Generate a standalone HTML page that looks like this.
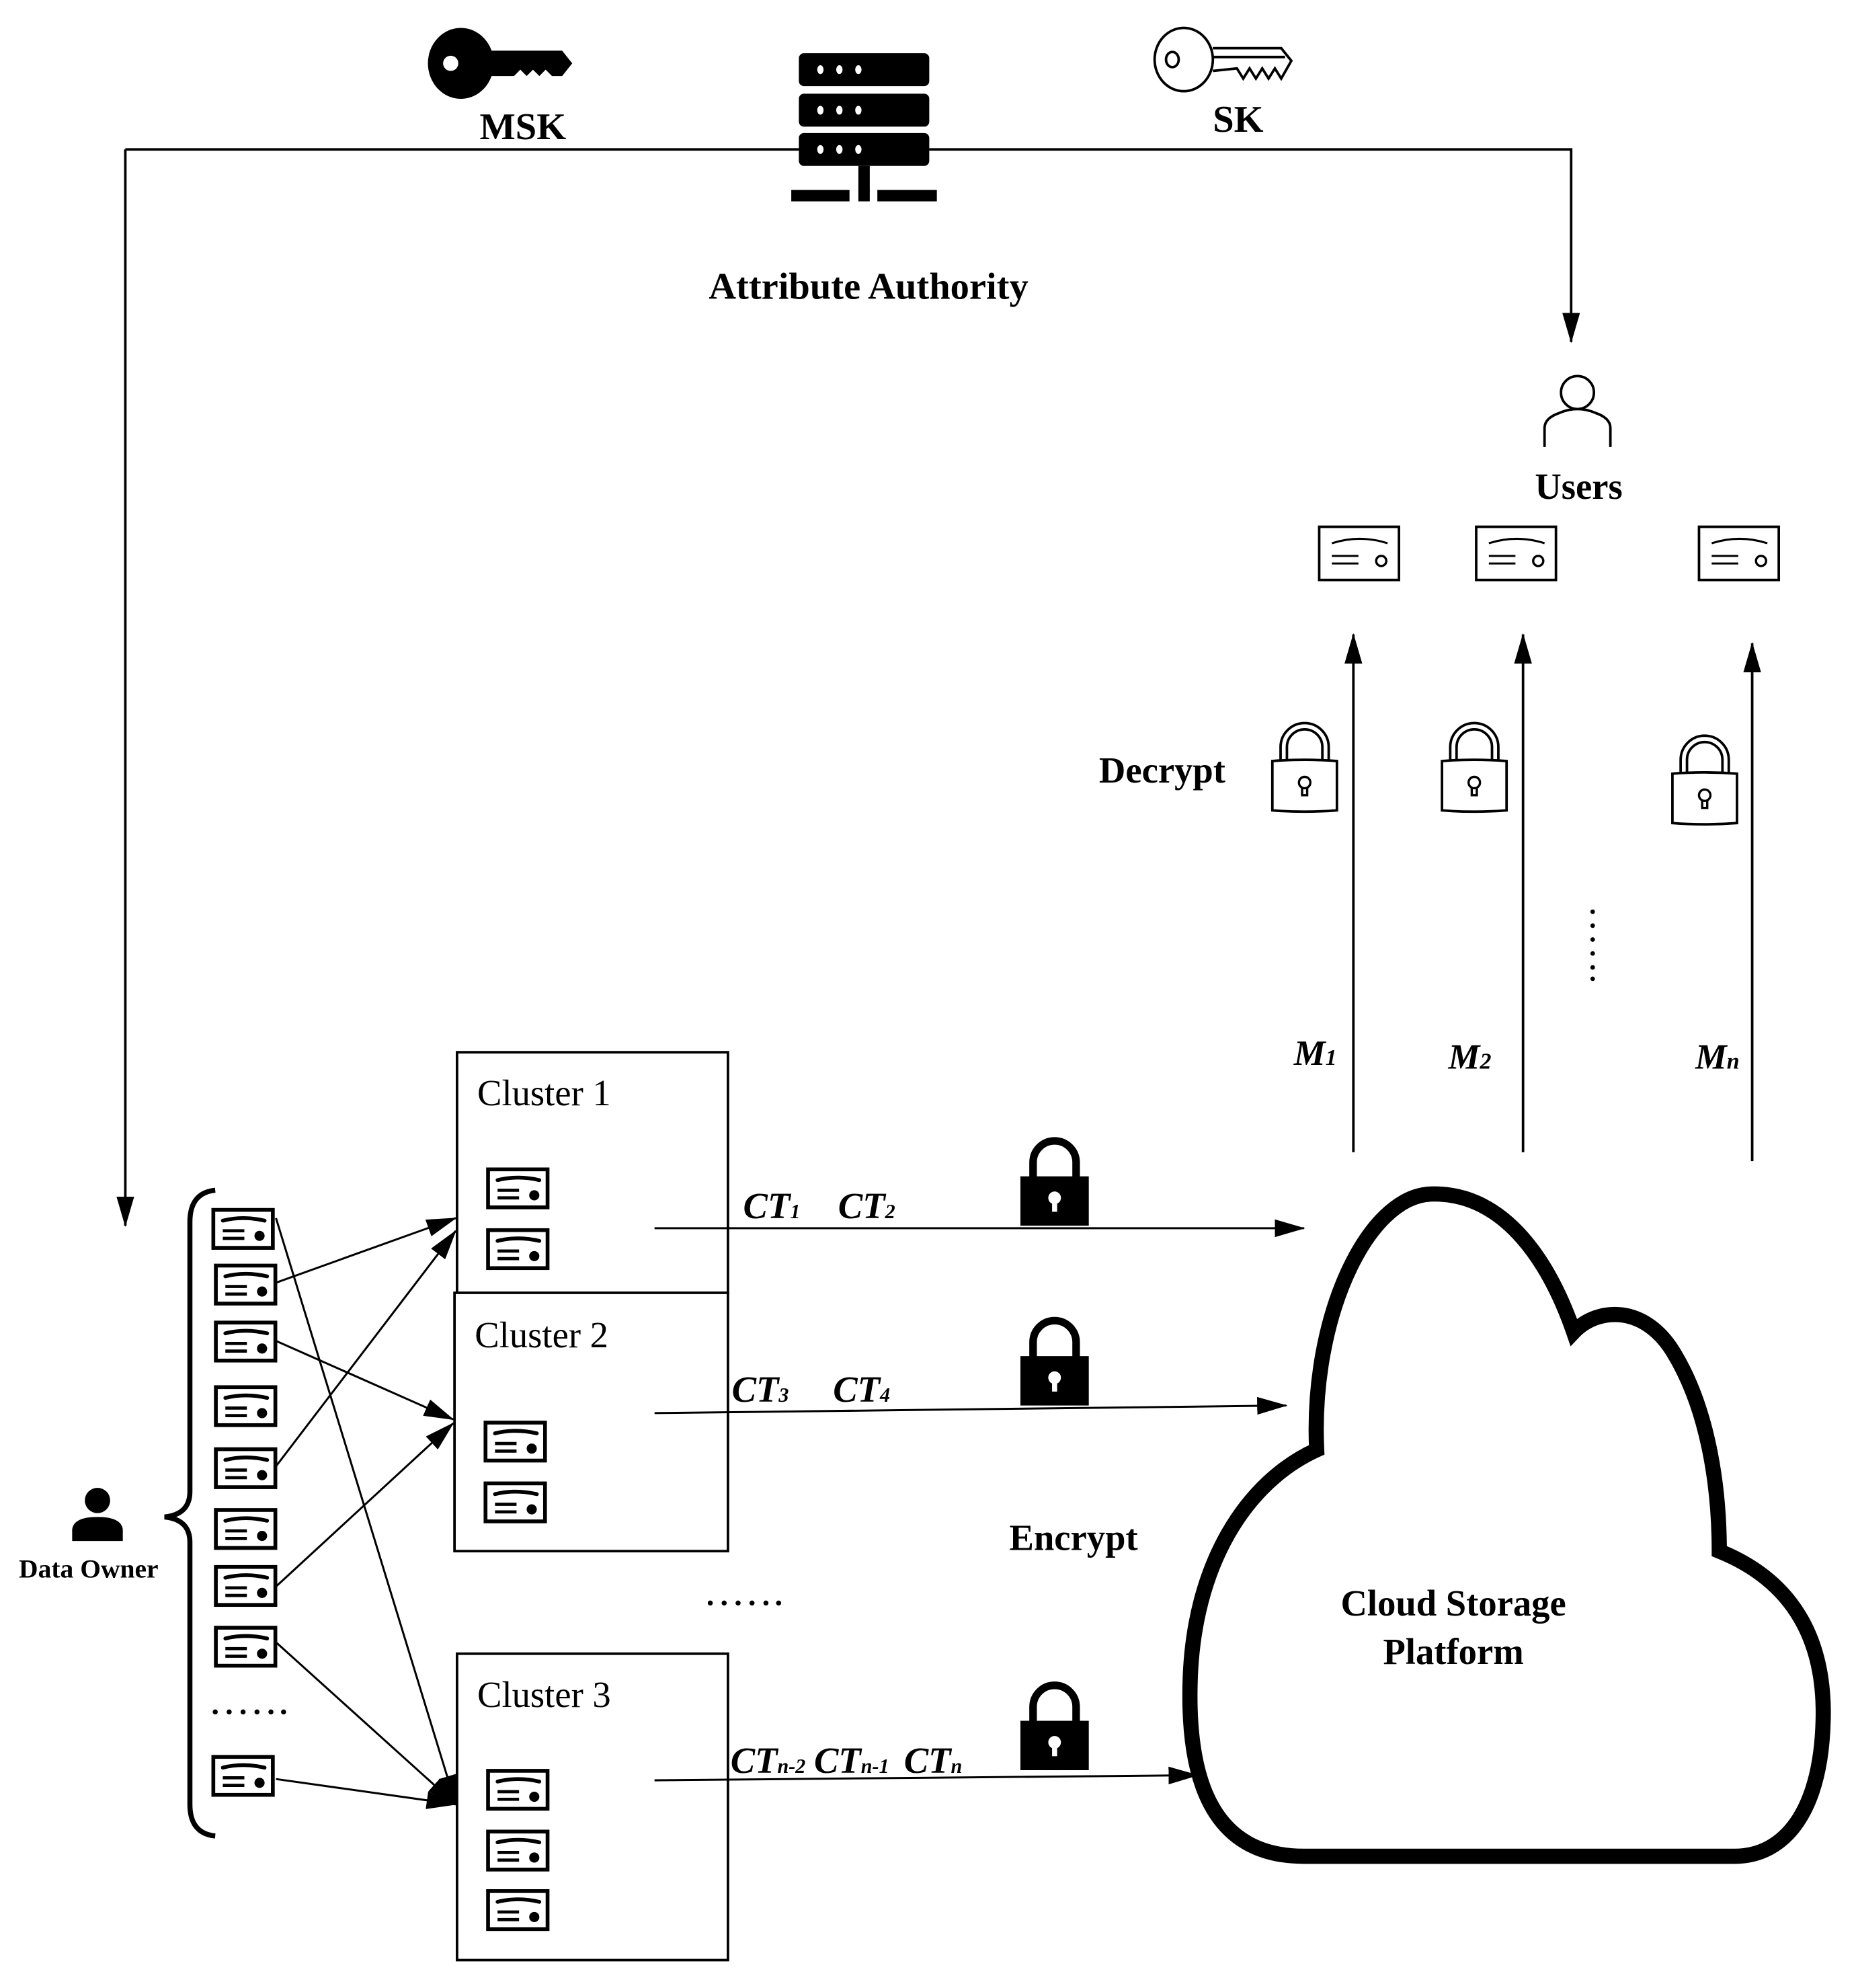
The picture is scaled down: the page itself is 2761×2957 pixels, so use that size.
<!DOCTYPE html>
<html><head><meta charset="utf-8"><style>html,body{margin:0;padding:0;background:#fff}svg{display:block}svg text,svg tspan{font-family:"Liberation Serif","Times New Roman",serif}</style></head>
<body>
<svg width="2761" height="2957" viewBox="0 0 1466 1570" xmlns="http://www.w3.org/2000/svg" style="font-family:'Liberation Serif',serif">
<defs>
<marker id="ah2" markerWidth="24" markerHeight="14" refX="23" refY="7" orient="auto" markerUnits="userSpaceOnUse"><path d="M0,0 L24,7 L0,14 Z" fill="#000"/></marker>
<g id="cert">
<rect x="1.5" y="1.5" width="47" height="30" fill="#fff" stroke="#000" stroke-width="3"/>
<path d="M9,10 Q25,6 42,10" fill="none" stroke="#000" stroke-width="3" stroke-linecap="round"/>
<line x1="9" y1="18" x2="26" y2="18" stroke="#000" stroke-width="2.5"/>
<line x1="9" y1="24" x2="26" y2="24" stroke="#000" stroke-width="2.5"/>
<circle cx="38" cy="22" r="4" fill="#000"/>
</g>
<g id="ucert">
<rect x="1" y="1" width="63" height="42" fill="#fff" stroke="#000" stroke-width="2"/>
<path d="M11,14 Q33,7 55,14" fill="none" stroke="#000" stroke-width="1.6"/>
<line x1="11" y1="24" x2="32" y2="24" stroke="#000" stroke-width="1.6"/>
<line x1="11" y1="30" x2="32" y2="30" stroke="#000" stroke-width="1.6"/>
<circle cx="50" cy="28" r="4" fill="none" stroke="#000" stroke-width="1.8"/>
</g>
<g id="olock">
<path d="M10,28 L10,16 A16.5,16.5 0 0 1 43,16 L43,28" fill="none" stroke="#000" stroke-width="7"/>
<path d="M10,28 L10,16 A16.5,16.5 0 0 1 43,16 L43,28" fill="none" stroke="#fff" stroke-width="3"/>
<path d="M1,27 Q26,25 52,27 L52,66 Q26,68 1,66 Z" fill="#fff" stroke="#000" stroke-width="2"/>
<circle cx="26.5" cy="44" r="4.5" fill="none" stroke="#000" stroke-width="1.8"/>
<path d="M24.5,48 L24.5,54 L28.5,54 L28.5,48" fill="none" stroke="#000" stroke-width="1.8"/>
</g>
<g id="clock">
<path d="M10,32 L10,20 A17,17 0 0 1 44,20 L44,32" fill="none" stroke="#000" stroke-width="6"/>
<rect x="0" y="31" width="54" height="39" fill="#000"/>
<circle cx="27" cy="48" r="5" fill="#fff"/>
<rect x="25" y="50" width="4" height="9" fill="#fff"/>
</g>
</defs>

<g>
<ellipse cx="364" cy="50" rx="26" ry="28" fill="#000"/>
<circle cx="356" cy="50" r="6" fill="#fff"/>
<path d="M386,40 L444,40 L452,50 L444,60 L436,60 L431,55 L426,60 L421,55 L416,60 L411,55 L406,60 L386,60 Z" fill="#000"/>
</g>
<text x="413" y="110" font-size="30" font-weight="bold" text-anchor="middle">MSK</text>

<rect x="631" y="42" width="103" height="26" rx="4" fill="#000"/>
<rect x="631" y="74" width="103" height="26" rx="4" fill="#000"/>
<rect x="631" y="105" width="103" height="26" rx="4" fill="#000"/>
<g fill="#fff">
<ellipse cx="648" cy="55" rx="2.5" ry="3.5"/><ellipse cx="663" cy="55" rx="2.5" ry="3.5"/><ellipse cx="678" cy="55" rx="2.5" ry="3.5"/>
<ellipse cx="648" cy="87" rx="2.5" ry="3.5"/><ellipse cx="663" cy="87" rx="2.5" ry="3.5"/><ellipse cx="678" cy="87" rx="2.5" ry="3.5"/>
<ellipse cx="648" cy="118" rx="2.5" ry="3.5"/><ellipse cx="663" cy="118" rx="2.5" ry="3.5"/><ellipse cx="678" cy="118" rx="2.5" ry="3.5"/>
</g>
<rect x="678" y="131" width="9" height="20" fill="#000"/>
<rect x="625" y="150" width="46" height="9" fill="#000"/>
<rect x="678" y="150" width="9" height="9" fill="#000"/>
<rect x="693" y="150" width="47" height="9" fill="#000"/>

<g fill="none" stroke="#000" stroke-width="2">
<ellipse cx="935" cy="47" rx="23" ry="25"/>
<ellipse cx="926" cy="47" rx="5" ry="6"/>
<path d="M958,38 L1012,38 L1020,48 L1012,62 L1007,54 L1002,62 L997,54 L992,62 L987,54 L982,62 L977,54 L958,56"/>
<line x1="958" y1="45" x2="1015" y2="45"/>
</g>
<text x="978" y="104" font-size="30" font-weight="bold" text-anchor="middle">SK</text>

<polyline points="99,118 631,118" stroke="#000" stroke-width="2" fill="none"/>
<polyline points="734,118 1241,118 1241,270" stroke="#000" stroke-width="2" fill="none" marker-end="url(#ah2)"/>
<polyline points="99,118 99,968" stroke="#000" stroke-width="2" fill="none" marker-end="url(#ah2)"/>
<text x="686" y="236" font-size="30" font-weight="bold" text-anchor="middle">Attribute Authority</text>

<circle cx="1246" cy="310" r="13" fill="none" stroke="#000" stroke-width="2"/>
<path d="M1220,353 L1220,338 Q1220,330 1232,326 Q1246,320 1260,326 Q1272,330 1272,338 L1272,353" fill="none" stroke="#000" stroke-width="2"/>
<text x="1247" y="394" font-size="29" font-weight="bold" text-anchor="middle">Users</text>
<use href="#ucert" x="1041" y="415"/>
<use href="#ucert" x="1165" y="415"/>
<use href="#ucert" x="1341" y="415"/>

<g stroke="#000" stroke-width="2">
<line x1="1069" y1="910" x2="1069" y2="501" marker-end="url(#ah2)"/>
<line x1="1203" y1="910" x2="1203" y2="501" marker-end="url(#ah2)"/>
<line x1="1384" y1="917" x2="1384" y2="508" marker-end="url(#ah2)"/>
</g>
<text x="918" y="618" font-size="29" font-weight="bold" text-anchor="middle">Decrypt</text>
<use href="#olock" x="1004" y="574"/>
<use href="#olock" x="1138" y="574"/>
<use href="#olock" x="1320" y="584"/>
<g fill="#000"><circle cx="1258" cy="720" r="1.8"/><circle cx="1258" cy="731" r="1.8"/><circle cx="1258" cy="742" r="1.8"/><circle cx="1258" cy="753" r="1.8"/><circle cx="1258" cy="764" r="1.8"/><circle cx="1258" cy="773" r="1.8"/></g>
<g font-size="28" font-weight="bold" font-style="italic">
<text x="1022" y="841">M<tspan font-size="18">1</tspan></text>
<text x="1144" y="844">M<tspan font-size="18">2</tspan></text>
<text x="1339" y="844">M<tspan font-size="18">n</tspan></text>
</g>

<g fill="none" stroke="#000" stroke-width="2">
<rect x="361" y="831" width="214" height="190"/>
<rect x="359" y="1021" width="216" height="204" fill="#fff"/>
<rect x="361" y="1306" width="214" height="242"/>
</g>
<g font-size="29">
<text x="377" y="873">Cluster 1</text>
<text x="375" y="1064">Cluster 2</text>
<text x="377" y="1348">Cluster 3</text>
</g>
<use href="#cert" x="384" y="922"/>
<use href="#cert" x="384" y="970"/>
<use href="#cert" x="382" y="1122"/>
<use href="#cert" x="382" y="1170"/>
<use href="#cert" x="384" y="1397"/>
<use href="#cert" x="384" y="1445"/>
<use href="#cert" x="384" y="1492"/>

<use href="#cert" x="167" y="954"/>
<use href="#cert" x="169" y="998"/>
<use href="#cert" x="169" y="1043"/>
<use href="#cert" x="169" y="1094"/>
<use href="#cert" x="169" y="1143"/>
<use href="#cert" x="169" y="1191"/>
<use href="#cert" x="169" y="1236"/>
<use href="#cert" x="169" y="1284"/>
<use href="#cert" x="167" y="1386"/>
<g fill="#000"><circle cx="170" cy="1352" r="2"/><circle cx="181" cy="1352" r="2"/><circle cx="192" cy="1352" r="2"/><circle cx="203" cy="1352" r="2"/><circle cx="214" cy="1352" r="2"/><circle cx="224" cy="1352" r="2"/></g>
<path d="M170,940 Q150,942 150,965 L150,1178 Q150,1196 130,1198 Q150,1200 150,1218 L150,1425 Q150,1448 170,1450" fill="none" stroke="#000" stroke-width="4"/>
<circle cx="77" cy="1185" r="10" fill="#000"/>
<path d="M57,1217 L57,1208 Q58,1198 77,1198 Q96,1198 97,1208 L97,1217 Z" fill="#000"/>
<text x="70" y="1246" font-size="21" font-weight="bold" text-anchor="middle">Data Owner</text>

<g stroke="#000" stroke-width="1.6" fill="none">
<line x1="218" y1="962" x2="360" y2="1425" marker-end="url(#ah2)"/>
<line x1="218" y1="1013" x2="360" y2="962" marker-end="url(#ah2)"/>
<line x1="218" y1="1059" x2="358" y2="1121" marker-end="url(#ah2)"/>
<line x1="218" y1="1158" x2="360" y2="972" marker-end="url(#ah2)"/>
<line x1="218" y1="1253" x2="358" y2="1124" marker-end="url(#ah2)"/>
<line x1="218" y1="1297" x2="360" y2="1425" marker-end="url(#ah2)"/>
<line x1="218" y1="1405" x2="360" y2="1425" marker-end="url(#ah2)"/>
</g>

<g stroke="#000" stroke-width="1.6">
<line x1="517" y1="970" x2="1030" y2="970" marker-end="url(#ah2)"/>
<line x1="517" y1="1116" x2="1016" y2="1110" marker-end="url(#ah2)"/>
<line x1="517" y1="1406" x2="946" y2="1402" marker-end="url(#ah2)"/>
</g>
<g font-size="29" font-weight="bold" font-style="italic">
<text x="587" y="962">CT<tspan font-size="16">1</tspan></text>
<text x="662" y="962">CT<tspan font-size="16">2</tspan></text>
<text x="578" y="1107">CT<tspan font-size="16">3</tspan></text>
<text x="658" y="1107">CT<tspan font-size="16">4</tspan></text>
<text x="577" y="1400">CT<tspan font-size="16">n-2</tspan></text>
<text x="643" y="1400">CT<tspan font-size="16">n-1</tspan></text>
<text x="714" y="1400">CT<tspan font-size="16">n</tspan></text>
</g>
<use href="#clock" x="806" y="898"/>
<use href="#clock" x="806" y="1040"/>
<use href="#clock" x="806" y="1328"/>
<g fill="#000"><circle cx="561" cy="1266" r="2"/><circle cx="572" cy="1266" r="2"/><circle cx="583" cy="1266" r="2"/><circle cx="594" cy="1266" r="2"/><circle cx="605" cy="1266" r="2"/><circle cx="615" cy="1266" r="2"/></g>
<text x="848" y="1224" font-size="29" font-weight="bold" text-anchor="middle">Encrypt</text>

<path d="M1030,1466 C960,1466 938,1410 940,1330 C942,1235 985,1170 1040,1145 C1035,1040 1080,945 1130,943 C1190,941 1225,1000 1243,1052 C1262,1032 1300,1030 1323,1070 C1348,1112 1358,1170 1358,1225 C1420,1250 1442,1300 1440,1360 C1438,1430 1410,1466 1370,1466 Z" fill="#fff" stroke="#000" stroke-width="12"/>
<text x="1148" y="1276" font-size="29" font-weight="bold" text-anchor="middle">Cloud Storage</text>
<text x="1148" y="1314" font-size="29" font-weight="bold" text-anchor="middle">Platform</text>
</svg>
</body></html>
